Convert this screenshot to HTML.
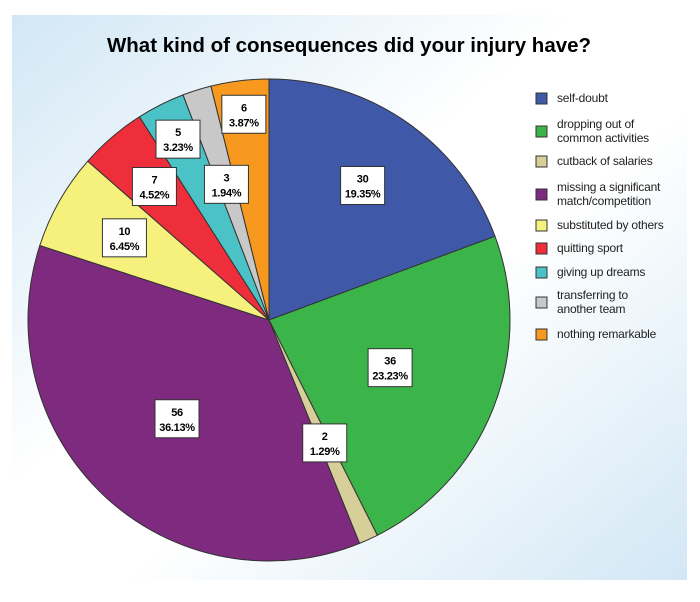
<!DOCTYPE html>
<html><head><meta charset="utf-8"><style>
body{margin:0;width:700px;height:597px;background:#fff;overflow:hidden;font-family:"Liberation Sans Narrow","Liberation Sans",sans-serif}
</style></head><body>
<svg width="700" height="597">
<defs><linearGradient id="bg" x1="0" y1="0" x2="1" y2="1">
<stop offset="0" stop-color="#d2e7f5"/><stop offset="0.42" stop-color="#fff"/><stop offset="0.58" stop-color="#fff"/><stop offset="1" stop-color="#d2e7f5"/></linearGradient></defs>
<rect x="12" y="15" width="675" height="565" fill="url(#bg)"/>
<text x="349" y="52" text-anchor="middle" font-family="Liberation Sans" font-weight="bold" font-size="20.5">What kind of consequences did your injury have?</text>
<g id="slices"></g><g id="labels"></g><g id="legend"></g>
</svg>
<script>
const categories=["self-doubt","dropping out of|common activities","cutback of salaries","missing a significant|match/competition","substituted by others","quitting sport","giving up dreams","transferring to|another team","nothing remarkable"];
const counts=[30,36,2,56,10,7,5,3,6];
const percents=["19.35%","23.23%","1.29%","36.13%","6.45%","4.52%","3.23%","1.94%","3.87%"];
const colors=["#3f58a8","#3bb54a","#d6cf9a","#7d2a7f","#f6f07c","#ee2f3b","#4bc3c6","#c8c8c8","#f7991f"];
const labelR=[0.68,0.54,0.56,0.56,0.69,0.73,0.84,0.59,0.86];
const cx=269,cy=320,R=241,NS="http://www.w3.org/2000/svg";
const total=counts.reduce((a,b)=>a+b,0);
const gS=document.getElementById('slices'),gL=document.getElementById('labels'),gG=document.getElementById('legend');
function pt(a,r){return [cx+r*Math.sin(a),cy-r*Math.cos(a)];}
let acc=0;
counts.forEach((v,i)=>{
 const a0=acc/total*2*Math.PI,a1=(acc+v)/total*2*Math.PI;acc+=v;
 const p0=pt(a0,R),p1=pt(a1,R);
 const p=document.createElementNS(NS,'path');
 p.setAttribute('d',`M${cx},${cy}L${p0[0]},${p0[1]}A${R},${R} 0 ${a1-a0>Math.PI?1:0} 1 ${p1[0]},${p1[1]}Z`);
 p.setAttribute('fill',colors[i]);p.setAttribute('stroke','#333');p.setAttribute('stroke-width','1');
 
 
 gS.appendChild(p);
 const m=pt((a0+a1)/2,R*labelR[i]);
 const g=document.createElementNS(NS,'g');
 
 
 g.innerHTML=`<rect x="${m[0]-22}" y="${m[1]-19}" width="44" height="38" fill="#fff" stroke="#333"/><text x="${m[0]}" y="${m[1]-3}" text-anchor="middle" font-weight="bold" font-size="11" letter-spacing="-0.3">${v}</text><text x="${m[0]}" y="${m[1]+12}" text-anchor="middle" font-weight="bold" font-size="11" letter-spacing="-0.3">${percents[i]}</text>`;
 gL.appendChild(g);
});
const rowY=[98,131,161,194,225,248,272,302,334];
categories.forEach((c,i)=>{
 const g=document.createElementNS(NS,'g');
 
 
 const lines=c.split('|');const y=rowY[i];
 let h=`<rect x="536" y="${y-5}" width="11" height="11" fill="${colors[i]}" stroke="#333"/>`;
 lines.forEach((l,j)=>{const ty=y+4+(j-(lines.length-1)/2)*14;h+=`<text x="557" y="${ty}" font-size="12" letter-spacing="-0.2" fill="#222">${l}</text>`;});
 g.innerHTML=h;gG.appendChild(g);
});
</script>
</body></html>
